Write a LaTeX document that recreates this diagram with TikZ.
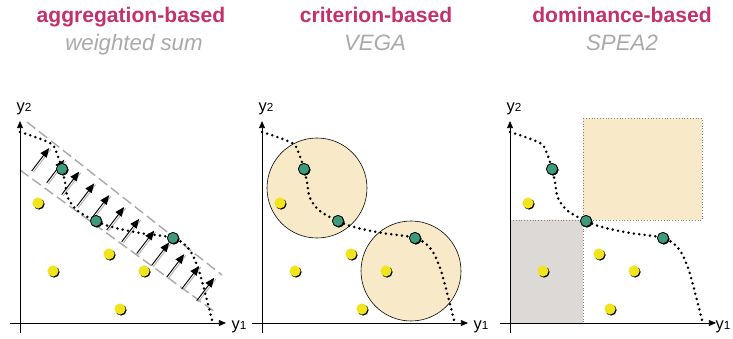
\documentclass[tikz,border=0pt]{standalone}
\usepackage{fontspec}
\setmainfont{Liberation Sans}
\usepackage{xcolor}
\usetikzlibrary{arrows.meta, shadows}
\definecolor{titlered}{HTML}{C3306B}
\definecolor{subgray}{HTML}{A9A9A9}
\definecolor{beige}{HTML}{F8E9C8}
\definecolor{boxgray}{HTML}{DDD9D6}
\definecolor{frontgreen}{HTML}{3E9B7A}
\definecolor{popyellow}{HTML}{F2E41C}
\tikzstyle{front}=[circle, draw=black, line width=0.6pt, fill=frontgreen, inner sep=0pt, minimum size=9.5pt,
  general shadow={fill=black, shadow xshift=0.8pt, shadow yshift=-0.8pt}]
\tikzstyle{pop}=[circle, fill=popyellow, inner sep=0pt, minimum size=9.5pt,
  general shadow={fill=black, shadow xshift=0.9pt, shadow yshift=-0.9pt}]
\tikzstyle{axis}=[line width=0.6pt, -{Triangle[length=6pt,width=5pt]}]
\tikzstyle{frontline}=[line width=2.4pt, line cap=round, dash pattern=on 0pt off 4.6pt]
\tikzstyle{band}=[draw=subgray, line width=1.2pt, dash pattern=on 9pt off 4pt]
\tikzstyle{title}=[text=titlered, anchor=base, font=\bfseries\fontsize{18}{20}\selectfont]
\tikzstyle{subtitle}=[text=subgray, anchor=base, font=\itshape\fontsize{19}{21}\selectfont]
\tikzstyle{axlabel}=[font=\fontsize{14}{16}\selectfont, inner sep=0pt]
\newcommand{\popnode}{\node[pop]}
\newcommand{\frontnode}{\node[front]}

\begin{document}
\begin{tikzpicture}[x=0.03cm, y=-0.03cm]
\useasboundingbox (0,0) rectangle (733,338);

\node[title] (t1) at (131,23) {aggregation-based};
\node[subtitle] (s1) at (134,51) {weighted sum};
\node[title] (t2) at (376,23) {criterion-based};
\node[subtitle] (s2) at (375,51) {VEGA};
\node[title] (t3) at (622,23) {dominance-based};
\node[subtitle] (s3) at (622,51) {SPEA2};

\fill[beige, draw=black, line width=0.5pt] (317,188) circle (50);
\fill[beige, draw=black, line width=0.5pt] (411,271) circle (50);
\fill[boxgray, draw=gray, dotted] (510,220) rectangle (583,323);
\fill[beige, draw=gray, dotted] (583,118) rectangle (702,220);

\draw[band] (27,122) -- (222,275);
\draw[band] (20,170) -- (215,312);
\foreach \i in {0,...,11}{
	\coordinate (tail\i) at (31.7+15*\i, 171+11.8*\i);
	\coordinate (tip\i) at (49.2+15*\i, 148+11.8*\i);
	\draw[gray!60, line width=0.8pt] ([shift={(1.6,1.2)}]tail\i) -- ([shift={(1.6,1.2)}]tip\i);
	\draw[line width=0.8pt, -{Triangle[length=8pt,width=6.5pt]}] (tail\i) -- (tip\i);
	}

\foreach \p/\dx/\lx in {1/0/239,2/242/239,3/490/233}{
\begin{scope}[shift={(\dx,0)}]
	\coordinate (xl\p) at (10,323);
	\coordinate (xr\p) at (226,323);
	\coordinate (yb\p) at (20,333);
	\coordinate (yt\p) at (20,121);
	\draw[axis] (xl\p) -- (xr\p);
	\draw[axis] (yb\p) -- (yt\p);
	\node[axlabel] (ly\p) at (24,109) {y{\fontsize{10}{11}\selectfont 2}};
	\node[axlabel] (lx\p) at (\lx,327) {y{\fontsize{10}{11}\selectfont 1}};
	\frontnode (g\p1) at (62,169) {};
	\frontnode (g\p2) at (96,221) {};
	\frontnode (g\p3) at (173,238) {};
	\draw[frontline] plot[smooth, tension=0.6] coordinates {(20,132) (50,143) (57,154) (g\p1)
		(65,182) (68,198) (78,211) (g\p2) (112,227) (140,233) (g\p3) (188,248) (197,265) (203,285) (212,320)};
	\frontnode at (g\p1) {};
	\frontnode at (g\p2) {};
	\frontnode at (g\p3) {};
	\popnode (a\p) at (38,203) {};
	\popnode (b\p) at (53,271) {};
	\popnode (c\p) at (109,254) {};
	\popnode (d\p) at (144,271) {};
	\popnode (e\p) at (120,309) {};
\end{scope}
	}
\end{tikzpicture}
\end{document}
